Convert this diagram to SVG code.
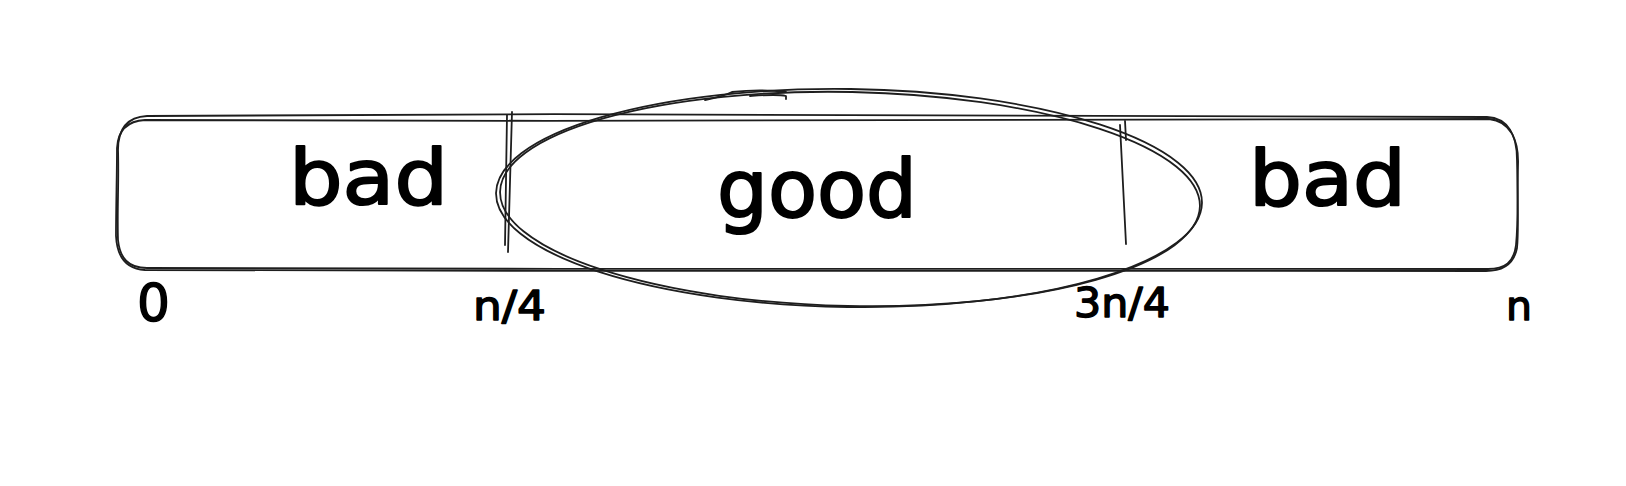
<svg xmlns="http://www.w3.org/2000/svg" width="1626" height="486" viewBox="0 0 1626 486">
<style>
.s{fill:none;stroke:#1e1e1e;stroke-width:1.8;stroke-linecap:round;stroke-linejoin:round}
.t{font-family:"DejaVu Sans","Liberation Sans",sans-serif;fill:#000;stroke:#000;stroke-linejoin:round}
.big{stroke-width:2}
.small{stroke-width:1.4}
</style>
<rect x="0" y="0" width="1626" height="486" fill="#fff"/>
<g id="bar">
<path class="s" d="M147 116 C600 113 1100 113 1487 117 C1508 118 1517 135 1517 160 C1518 200 1518 225 1516 245 C1514 262 1505 269 1488 269 C1100 270 600 269 147 268 C128 268 120 258 118 240 C117 210 119 180 118 150 C118 128 128 117 147 116 Z"/>
<path class="s" d="M145 120 C600 122 1100 120 1489 119 C1510 121 1519 140 1518 165 C1517 205 1519 230 1517 248 C1514 264 1503 271 1486 271 C1100 272 600 271 145 270 C126 269 117 256 116 236 C116 205 117 175 117 148 C118 130 127 121 145 120 Z"/>
</g>
<g id="divider-n4">
<path class="s" d="M512 112 L508 252"/>
<path class="s" d="M507 115 L505 245"/>
</g>
<g id="divider-3n4">
<path class="s" d="M1120 125 L1126 244"/>
<path class="s" d="M1125 121 L1126 140"/>
</g>
<g id="good-ellipse">
<ellipse class="s" cx="849" cy="198" rx="353" ry="109" transform="rotate(0.8 849 198)"/>
<ellipse class="s" cx="850" cy="199" rx="350" ry="107" transform="rotate(1.2 850 199)"/>
<path class="s" d="M705 100 C720 97 728 94 732 92 C750 90 770 90 786 92 M750 96 C765 95 778 94 786 96 L786 99"/>
</g>
<g id="label-bad-left"><text class="t big" x="289" y="204" font-size="76" textLength="159" lengthAdjust="spacingAndGlyphs">bad</text></g>
<g id="label-good"><text class="t big" x="717" y="217" font-size="80" textLength="200" lengthAdjust="spacingAndGlyphs">good</text></g>
<g id="label-bad-right"><text class="t big" x="1249" y="205" font-size="76" textLength="157" lengthAdjust="spacingAndGlyphs">bad</text></g>
<g id="tick-labels">
<text class="t small" x="137" y="321" font-size="52" textLength="33" lengthAdjust="spacingAndGlyphs">0</text>
<text class="t small" x="473" y="320" font-size="40" textLength="73" lengthAdjust="spacingAndGlyphs">n/4</text>
<text class="t small" x="1074" y="317" font-size="40" textLength="96" lengthAdjust="spacingAndGlyphs">3n/4</text>
<text class="t small" x="1506" y="320" font-size="40" textLength="26" lengthAdjust="spacingAndGlyphs">n</text>
</g>
</svg>
